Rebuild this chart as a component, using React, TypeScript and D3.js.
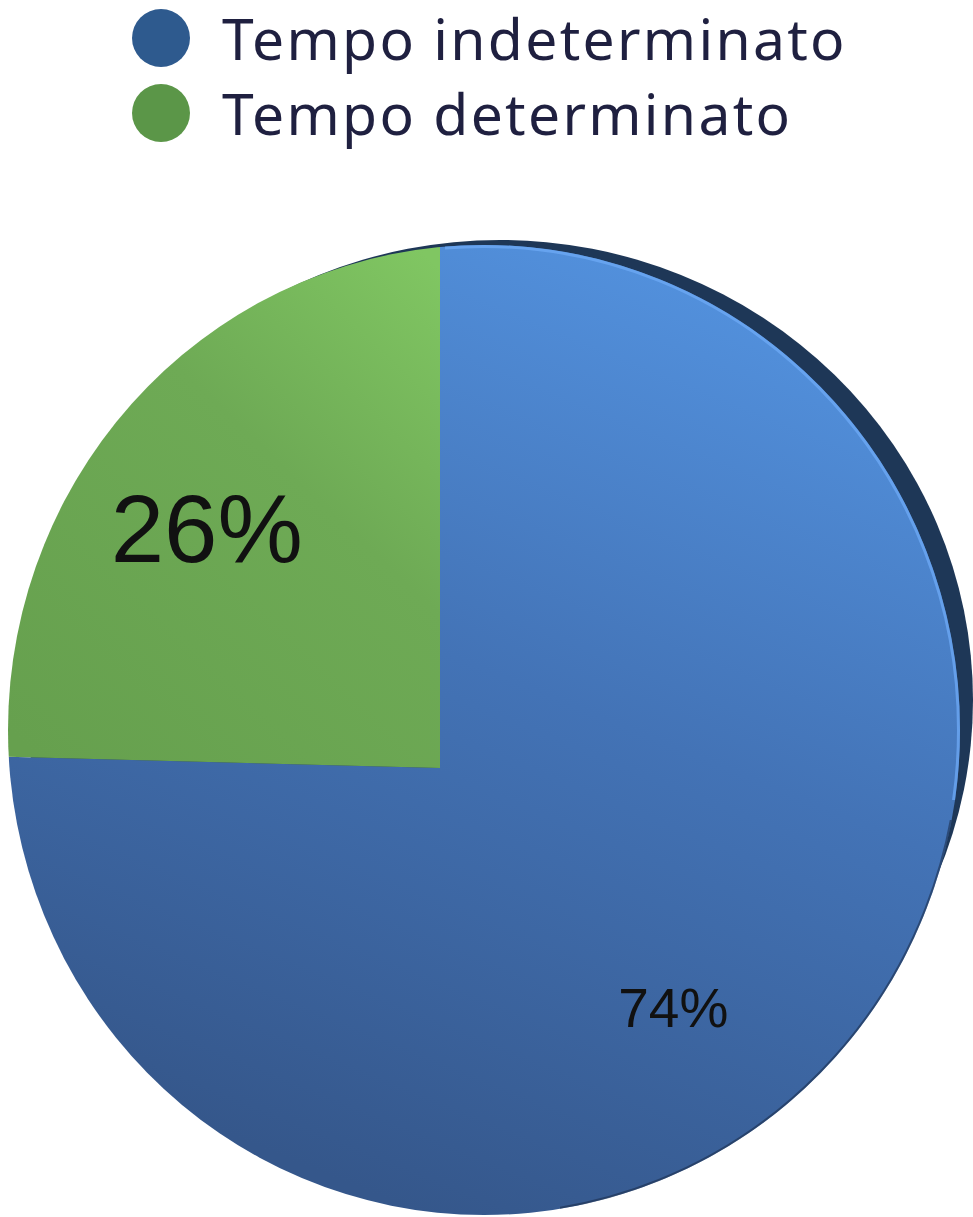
import * as d3 from 'd3'

// chart data
const categories = ['Tempo indeterminato', 'Tempo determinato']
const values = [74, 26]
const labels = ['74%', '26%']
const legendColors = ['#2e5a8e', '#5b9648']
const fills = ['url(#blueGrad)', 'url(#greenGrad)']

const W = 973
const H = 1217

// pie face (seen at a slight tilt) and its vertex
const face = { cx: 484, cy: 730, rx: 476, ry: 485 }
const rim = { cx: 500, cy: 700, rx: 473, ry: 460 }
const vertex = [440, 768]
const shear = 0.0887

const pie = d3.pie<number>().sort(null).value((d) => d)
const arcs = pie(values)
const arc = d3.arc<d3.PieArcDatum<number>>().innerRadius(0).outerRadius(1100)
const labelArc = d3.arc<d3.PieArcDatum<number>>().innerRadius(320).outerRadius(320)

const labelSizes = [55, 96]

export default function App() {
  return (
    <svg width={W} height={H} style={{ position: 'absolute', left: 0, top: 0 }}>
      <defs>
        <clipPath id="faceClip">
          <ellipse cx={face.cx} cy={face.cy} rx={face.rx} ry={face.ry} />
        </clipPath>
        <clipPath id="upperRight">
          <rect x={445} y={0} width={W} height={800} />
        </clipPath>
        <clipPath id="lowerRight">
          <rect x={560} y={820} width={W} height={H} />
        </clipPath>
        <linearGradient id="blueGrad" gradientUnits="userSpaceOnUse" x1={260} y1={-500} x2={-40} y2={440}>
          <stop offset="0" stopColor="#5290dc" />
          <stop offset="0.45" stopColor="#4373b6" />
          <stop offset="1" stopColor="#35578b" />
        </linearGradient>
        <linearGradient id="greenGrad" gradientUnits="userSpaceOnUse" x1={-430} y1={0} x2={0} y2={-500}>
          <stop offset="0" stopColor="#66a04e" />
          <stop offset="0.6" stopColor="#6eaa55" />
          <stop offset="1" stopColor="#80c662" />
        </linearGradient>
      </defs>

      {/* legend */}
      {categories.map((c, i) => (
        <g key={c} transform={`translate(0,${38 + i * 75})`}>
          <circle cx={161} cy={0} r={29} fill={legendColors[i]} />
          <text
            x={222}
            y={22}
            fontFamily="'Noto Sans', sans-serif"
            fontSize={57}
            letterSpacing={2.3}
            fill="#1f2040"
          >
            {c}
          </text>
        </g>
      ))}

      {/* dark side of the pie */}
      <ellipse cx={rim.cx} cy={rim.cy} rx={rim.rx} ry={rim.ry} fill="#1e3757" />

      {/* slices */}
      <g clipPath="url(#faceClip)">
        <g transform={`translate(${vertex[0]},${vertex[1]}) matrix(1,${shear},0,1,0,0)`}>
          {arcs.map((a, i) => (
            <path key={i} d={arc(a) || ''} fill={fills[i]} />
          ))}
        </g>
      </g>

      {/* light edge top right, soft shadow bottom right */}
      <g clipPath="url(#upperRight)">
        <ellipse
          cx={face.cx}
          cy={face.cy}
          rx={face.rx - 1.5}
          ry={face.ry - 1.5}
          fill="none"
          stroke="#6eaaf5"
          strokeOpacity={0.75}
          strokeWidth={3}
        />
      </g>
      <g clipPath="url(#lowerRight)">
        <ellipse
          cx={face.cx}
          cy={face.cy}
          rx={face.rx - 1}
          ry={face.ry - 1}
          fill="none"
          stroke="#1c2f4d"
          strokeOpacity={0.6}
          strokeWidth={2}
        />
      </g>

      {/* labels */}
      {arcs.map((a, i) => {
        const [lx, ly] = labelArc.centroid(a)
        return (
          <text
            key={i}
            x={vertex[0] + lx}
            y={vertex[1] + ly + shear * lx}
            textAnchor="middle"
            dominantBaseline="central"
            fontFamily="'Liberation Sans', Arial, sans-serif"
            fontSize={labelSizes[i]}
            fill="#111"
          >
            {labels[i]}
          </text>
        )
      })}
    </svg>
  )
}
